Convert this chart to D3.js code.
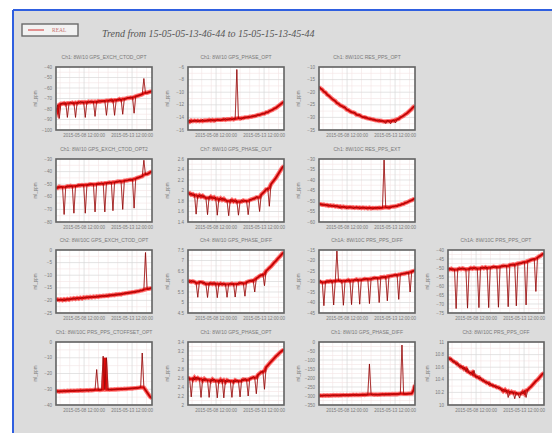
<!DOCTYPE html>
<html>
<head>
<meta charset="utf-8">
<script src="https://cdn.jsdelivr.net/npm/d3@7"></script>
<style>
  body { margin: 0; background: #fff; }
  svg { display: block; }
  .tick-label { font-family: "Liberation Sans", Arial, sans-serif; fill: #7a7a7a; }
</style>
</head>
<body>
<div id="chart"></div>
<script>
// ---- data ----
const timeStart = new Date(2015, 4, 5, 13, 46, 44);
const timeEnd = new Date(2015, 4, 15, 13, 45, 44);
const xTickDates = [new Date(2015, 4, 8, 12, 0, 0), new Date(2015, 4, 13, 12, 0, 0)];
const legendLabel = "REAL";
const chartTitle = "Trend from 15-05-05-13-46-44 to 15-05-15-13-45-44";
const yLabel = "ml_ppm";

const panelTitles = [
  "Ch1: 8W/10 GPS_EXCH_CTOD_OPT", "Ch1: 8W/10 GPS_PHASE_OPT", "Ch1: 8W/10C RES_PPS_OPT",
  "Ch1: 8W/10 GPS_EXCH_CTOD_OPT2", "Ch7: 8W/10 GPS_PHASE_OUT", "Ch1: 8W/10C RES_PPS_EXT",
  "Ch2: 8W/10C GPS_EXCH_CTOD_OPT", "Ch4: 8W/10 GPS_PHASE_DIFF", "Ch1A: 8W/10C PRS_PPS_DIFF", "Ch1A: 8W/10C PRS_PPS_OPT",
  "Ch1: 8W/10C PRS_PPS_CTOFFSET_OPT", "Ch1: 8W/10 GPS_PHASE_OPT", "Ch1: 8W/10 GPS_PHASE_DIFF", "Ch3: 8W/10C PRS_PPS_OFF"
];

// [min, max, step] of each panel's y axis
const yRanges = [
  [-100, -40, 10], [-16, -6, 2], [-35, -10, 5],
  [-80, -30, 10], [1.4, 2.6, 0.2], [-60, -30, 5],
  [-25, 0, 5], [4.5, 7.5, 0.5], [-45, -15, 5], [-75, -40, 5],
  [-40, 0, 10], [2.0, 3.4, 0.2], [-350, 0, 50], [10.0, 11.0, 0.2]
];

const s1 = [-83,-76,-89,-75,-74.5,-75.5,-74,-88,-74.5,-73.5,-75,-74,-88,-73.5,-74.5,-73,-74,-73.5,-88,-73,-74,-72.5,-73.5,-73,-87,-72.5,-73.5,-72,-73,-72.5,-72,-86,-72,-71.5,-72.5,-71,-86,-71.5,-70.5,-71.5,-70.5,-85,-70,-70.5,-69.5,-69,-69.5,-68.5,-84,-68,-67.5,-67,-66.5,-66,-51,-65,-64.5,-64,-63.5,-63];
const s2 = [-14.7,-14.4,-14.8,-14.5,-14.6,-14.4,-14.7,-14.5,-14.6,-14.3,-14.6,-14.5,-14.4,-14.6,-14.3,-14.5,-14.4,-14.6,-14.3,-14.4,-14.5,-14.3,-14.4,-14.2,-14.4,-14.3,-14.2,-14.4,-14.2,-14.3,-6.4,-14.2,-14.1,-14.3,-14.0,-14.1,-14.0,-13.9,-14.0,-13.8,-13.9,-13.7,-13.8,-13.6,-13.6,-13.5,-13.4,-13.4,-13.2,-13.2,-13.0,-12.9,-12.8,-12.6,-12.5,-12.3,-12.1,-11.9,-11.7,-11.4];
const s3 = [-17.5,-18.6,-19.0,-19.8,-20.1,-21.0,-21.4,-22.0,-22.6,-23.1,-23.5,-24.3,-24.6,-25.2,-25.5,-26.2,-25.8,-26.9,-27.1,-27.6,-27.9,-28.3,-28.0,-28.9,-29.2,-29.0,-29.6,-29.9,-30.2,-29.8,-30.4,-30.7,-30.5,-31.0,-30.8,-31.2,-31.4,-30.9,-31.5,-31.3,-31.6,-32.4,-31.2,-31.5,-32.5,-31.3,-31.0,-32.2,-30.8,-30.6,-30.0,-29.7,-29.3,-28.8,-28.4,-27.8,-27.2,-26.6,-25.9,-25.2];
const s4 = [-53.5,-52,-53,-51.8,-52.4,-74,-51.6,-52.2,-51.4,-51.9,-51.2,-73,-51.5,-50.8,-51.3,-50.6,-51,-50.4,-73,-50.6,-50,-50.5,-49.8,-50.2,-72,-49.6,-50,-49.3,-49.8,-49.1,-72,-49.2,-48.6,-49,-48.3,-71,-48.5,-47.9,-48.2,-47.5,-47.8,-70,-47.2,-46.9,-47.1,-46.4,-46.6,-45.9,-69,-45.5,-45,-44.6,-44.1,-43.7,-31,-42.6,-42,-41.3,-40.5,-39.6];
const s5 = [1.96,1.92,1.95,1.90,1.93,1.55,1.91,1.88,1.92,1.87,1.90,1.86,1.54,1.89,1.85,1.88,1.84,1.87,1.53,1.85,1.82,1.86,1.81,1.84,1.80,1.52,1.83,1.79,1.82,1.78,1.81,1.53,1.79,1.82,1.78,1.81,1.80,1.54,1.83,1.82,1.85,1.84,1.88,1.87,1.60,1.92,1.95,1.98,2.02,2.05,1.70,2.12,2.16,2.20,2.24,2.29,2.34,2.39,2.44,2.49];
const s6 = [-51.2,-51.8,-51.5,-52.0,-51.7,-52.3,-51.9,-52.4,-52.1,-52.6,-52.2,-52.8,-52.4,-53.5,-52.6,-53.0,-52.7,-53.6,-52.9,-53.1,-52.8,-53.7,-53.0,-53.3,-52.9,-53.8,-53.1,-53.4,-53.0,-53.8,-53.2,-53.5,-53.1,-53.9,-53.3,-53.4,-53.0,-53.6,-53.2,-53.3,-30.5,-53.0,-53.2,-52.8,-53.4,-52.6,-52.7,-52.3,-52.5,-51.9,-52.0,-51.5,-51.4,-50.9,-50.7,-50.3,-49.9,-49.6,-49.2,-48.7];
const s7 = [-19.3,-20.2,-19.6,-19.9,-19.5,-20.3,-19.4,-19.8,-19.3,-19.7,-19.1,-19.5,-19.0,-19.4,-18.9,-19.3,-18.8,-19.2,-18.7,-19.0,-18.6,-18.9,-18.5,-18.8,-18.4,-18.7,-18.3,-18.6,-18.2,-18.4,-18.1,-18.3,-17.9,-18.2,-17.8,-18.0,-17.6,-17.9,-17.5,-17.7,-17.3,-17.6,-17.1,-17.3,-16.9,-17.1,-16.7,-16.9,-16.5,-16.7,-16.3,-16.4,-16.0,-16.1,-15.8,-1.0,-15.6,-15.4,-15.2,-15.0];
const s8 = [6.02,5.95,6.05,5.98,6.01,5.93,5.25,5.97,6.00,5.91,5.96,5.89,5.24,5.94,5.88,5.92,5.87,5.93,5.23,5.90,5.86,5.91,5.85,5.89,5.25,5.87,5.92,5.86,5.90,5.26,5.88,5.93,5.89,5.95,5.91,5.30,5.97,6.00,6.04,6.02,6.09,5.50,6.15,6.20,6.26,6.30,6.37,5.80,6.50,6.57,6.65,6.72,6.81,6.90,6.98,7.07,7.15,7.24,7.33,7.42];
const s9 = [-30.2,-29.6,-30.4,-41.5,-29.9,-30.3,-29.7,-30.1,-29.5,-41.2,-29.8,-15.5,-29.6,-30.0,-29.4,-41.3,-29.7,-29.3,-29.8,-29.2,-41.0,-29.5,-29.0,-29.4,-28.9,-40.8,-29.2,-28.8,-29.1,-28.6,-28.9,-40.5,-28.7,-28.3,-28.6,-28.1,-28.4,-40.0,-28.0,-27.8,-28.1,-27.6,-39.2,-27.5,-27.2,-27.4,-26.9,-27.1,-26.7,-38.5,-26.6,-26.4,-26.1,-26.3,-25.9,-25.6,-35.0,-25.3,-25.0,-24.6];
const s10 = [-50.8,-50.0,-51.2,-50.4,-50.9,-72.5,-50.3,-50.8,-50.1,-50.6,-50.2,-50.7,-72.3,-50.0,-50.5,-49.9,-50.4,-49.8,-50.3,-72.0,-49.7,-50.2,-49.6,-50.1,-49.5,-72.0,-49.8,-49.3,-49.7,-49.1,-49.5,-71.8,-49.2,-48.8,-49.1,-48.5,-48.9,-71.5,-48.3,-48.0,-48.4,-47.8,-71.0,-47.5,-47.2,-47.5,-46.9,-46.6,-70.5,-46.2,-45.9,-45.5,-45.2,-44.8,-63.0,-44.2,-43.6,-43.1,-42.4,-41.8];
const s11 = [-31.0,-31.6,-31.2,-31.5,-31.1,-31.4,-31.0,-31.3,-30.9,-31.2,-30.9,-31.1,-30.8,-31.0,-30.7,-31.0,-30.7,-30.9,-30.6,-30.8,-30.5,-30.8,-30.5,-30.7,-30.4,-17.5,-30.6,-30.3,-30.5,-9.0,-30.2,-10.0,-30.4,-30.1,-30.3,-30.0,-30.2,-29.9,-30.1,-29.8,-30.0,-29.7,-29.9,-29.6,-29.8,-29.5,-29.6,-29.3,-29.5,-29.1,-29.3,-29.0,-28.8,-7.0,-29.0,-30.5,-32.0,-33.5,-35.0,-36.0];
const s12 = [2.64,2.58,2.18,2.61,2.56,2.62,2.57,2.60,2.17,2.58,2.54,2.59,2.55,2.17,2.57,2.53,2.58,2.54,2.16,2.56,2.52,2.57,2.16,2.55,2.51,2.56,2.53,2.17,2.55,2.51,2.56,2.53,2.18,2.57,2.54,2.59,2.56,2.20,2.60,2.58,2.63,2.61,2.25,2.67,2.70,2.73,2.76,2.35,2.84,2.88,2.92,2.96,3.00,3.04,3.08,3.11,3.15,3.18,3.21,3.24];
const s13 = [-297,-300,-296,-299,-295,-298,-296,-299,-295,-297,-294,-298,-295,-297,-294,-296,-293,-297,-294,-296,-293,-295,-292,-296,-293,-295,-292,-294,-291,-295,-292,-122,-291,-294,-290,-293,-291,-293,-290,-292,-289,-292,-290,-291,-288,-291,-289,-290,-288,-290,-287,-17,-288,-289,-287,-288,-286,-287,-270,-210];
const s14 = [10.76,10.72,10.74,10.68,10.70,10.64,10.67,10.60,10.63,10.57,10.60,10.53,10.58,10.50,10.52,10.47,10.55,10.44,10.46,10.41,10.44,10.38,10.40,10.35,10.37,10.32,10.35,10.30,10.32,10.28,10.30,10.26,10.28,10.22,10.25,10.21,10.24,10.12,10.22,10.19,10.21,10.10,10.20,10.18,10.11,10.21,10.18,10.23,10.12,10.24,10.27,10.29,10.32,10.35,10.38,10.40,10.43,10.46,10.49,10.52];

const seriesList = [s1, s2, s3, s4, s5, s6, s7, s8, s9, s10, s11, s12, s13, s14];
const panelsPerRow = [3, 3, 4, 4];

// ---- layout ----
const W = 552, H = 433;
const colX = [56, 188, 319, 448];
const rowY = [67, 159, 250, 342];
const boxW = 96, boxH = 63;

const svg = d3.select("#chart").append("svg")
  .attr("width", W)
  .attr("height", H);

// gray frame with blue top/left edges
svg.append("rect")
  .attr("x", 13).attr("y", 10)
  .attr("width", W - 13).attr("height", H - 10)
  .attr("fill", "#dcdcdc");
svg.append("line")
  .attr("x1", 13).attr("x2", W).attr("y1", 10).attr("y2", 10)
  .attr("stroke", "#2f5fe0").attr("stroke-width", 2);
svg.append("line")
  .attr("x1", 13).attr("x2", 13).attr("y1", 10).attr("y2", H)
  .attr("stroke", "#2f5fe0").attr("stroke-width", 2);

// legend
const legend = svg.append("g").attr("transform", "translate(22,24)");
legend.append("rect")
  .attr("width", 56).attr("height", 12)
  .attr("fill", "#f2f2f2").attr("stroke", "#6a6a6a").attr("stroke-width", 1.4);
legend.append("line")
  .attr("x1", 6).attr("x2", 22).attr("y1", 6).attr("y2", 6)
  .attr("stroke", "#d85050").attr("stroke-width", 1.2);
legend.append("text")
  .attr("x", 30).attr("y", 8)
  .attr("font-family", "Liberation Serif, serif")
  .attr("font-size", 5.5)
  .attr("fill", "#c87070")
  .text(legendLabel);

svg.append("text")
  .attr("x", 102).attr("y", 37)
  .attr("font-family", "Liberation Serif, serif")
  .attr("font-style", "italic")
  .attr("font-size", 10)
  .attr("fill", "#555")
  .text(chartTitle);

const fmtTick = d3.timeFormat("%Y-%m-%d %H:%M:%S");

let k = 0;
panelsPerRow.forEach((count, row) => {
  for (let col = 0; col < count; col++, k++) {
    const values = seriesList[k];
    const [lo, hi, step] = yRanges[k];
    const g = svg.append("g")
      .attr("transform", `translate(${colX[col]},${rowY[row]})`);

    const x = d3.scaleTime().domain([timeStart, timeEnd]).range([0, boxW]);
    const y = d3.scaleLinear().domain([lo, hi]).range([boxH, 0]);
    const yTicks = d3.range(lo, hi + step / 2, step);
    const dt = (timeEnd - timeStart) / (values.length - 1);
    const pts = values.map((v, i) => ({ t: new Date(+timeStart + i * dt), v }));
    // 3-point median of the samples: the thick trend band, without the one-sample spikes
    const band = pts.map((p, i) => ({
      t: p.t,
      v: d3.median(values.slice(Math.max(0, i - 1), i + 2))
    }));

    g.append("text")
      .attr("x", boxW / 2).attr("y", -8)
      .attr("text-anchor", "middle")
      .attr("class", "tick-label")
      .attr("font-size", 5)
      .text(panelTitles[k]);

    g.append("rect")
      .attr("width", boxW).attr("height", boxH)
      .attr("fill", "#fff");

    // minor grid
    g.append("g").selectAll("line")
      .data(d3.timeDay.range(timeStart, timeEnd))
      .join("line")
      .attr("x1", d => x(d)).attr("x2", d => x(d))
      .attr("y1", 0).attr("y2", boxH)
      .attr("stroke", "#f3e4e4").attr("stroke-width", 0.6);
    g.append("g").selectAll("line")
      .data(d3.range(lo + step / 2, hi, step))
      .join("line")
      .attr("x1", 0).attr("x2", boxW)
      .attr("y1", d => y(d)).attr("y2", d => y(d))
      .attr("stroke", "#f3e4e4").attr("stroke-width", 0.6);

    // major grid
    g.append("g").selectAll("line")
      .data(xTickDates)
      .join("line")
      .attr("x1", d => x(d)).attr("x2", d => x(d))
      .attr("y1", 0).attr("y2", boxH)
      .attr("stroke", "#d8d8d8").attr("stroke-width", 0.7);
    g.append("g").selectAll("line")
      .data(yTicks)
      .join("line")
      .attr("x1", 0).attr("x2", boxW)
      .attr("y1", d => y(d)).attr("y2", d => y(d))
      .attr("stroke", "#d8d8d8").attr("stroke-width", 0.7);

    const line = d3.line()
      .x(d => x(d.t))
      .y(d => y(d.v));

    const clipId = "clip" + k;
    g.append("clipPath").attr("id", clipId)
      .append("rect").attr("width", boxW).attr("height", boxH);
    const plot = g.append("g").attr("clip-path", `url(#${clipId})`);

    plot.append("path")
      .datum(band)
      .attr("fill", "none")
      .attr("stroke", "#ff2020")
      .attr("stroke-opacity", 0.6)
      .attr("stroke-width", 4.4)
      .attr("d", line);
    plot.append("path")
      .datum(band)
      .attr("fill", "none")
      .attr("stroke", "#e00000")
      .attr("stroke-opacity", 0.9)
      .attr("stroke-width", 2.2)
      .attr("d", line);
    plot.append("path")
      .datum(pts)
      .attr("fill", "none")
      .attr("stroke", "#c41010")
      .attr("stroke-opacity", 0.8)
      .attr("stroke-width", 0.9)
      .attr("stroke-linejoin", "bevel")
      .attr("d", line);
    plot.append("path")
      .datum(pts)
      .attr("fill", "none")
      .attr("stroke", "#5a0000")
      .attr("stroke-opacity", 0.75)
      .attr("stroke-width", 0.45)
      .attr("d", line);

    g.append("rect")
      .attr("width", boxW).attr("height", boxH)
      .attr("fill", "none")
      .attr("stroke", "#626262")
      .attr("stroke-width", 1.6);

    // y tick labels
    g.append("g").selectAll("text")
      .data(yTicks)
      .join("text")
      .attr("class", "tick-label")
      .attr("x", -4).attr("y", d => y(d) + 1.6)
      .attr("text-anchor", "end")
      .attr("font-size", 4.5)
      .text(d => d3.format("~g")(+d.toFixed(2)));

    // x tick labels
    g.append("g").selectAll("text")
      .data(xTickDates)
      .join("text")
      .attr("class", "tick-label")
      .attr("x", d => x(d)).attr("y", boxH + 7)
      .attr("text-anchor", "middle")
      .attr("font-size", 4.5)
      .text(d => fmtTick(d));

    g.append("text")
      .attr("class", "tick-label")
      .attr("transform", `rotate(-90)`)
      .attr("x", -boxH / 2).attr("y", -19)
      .attr("text-anchor", "middle")
      .attr("font-size", 4.5)
      .text(yLabel);
  }
});
</script>
</body>
</html>
